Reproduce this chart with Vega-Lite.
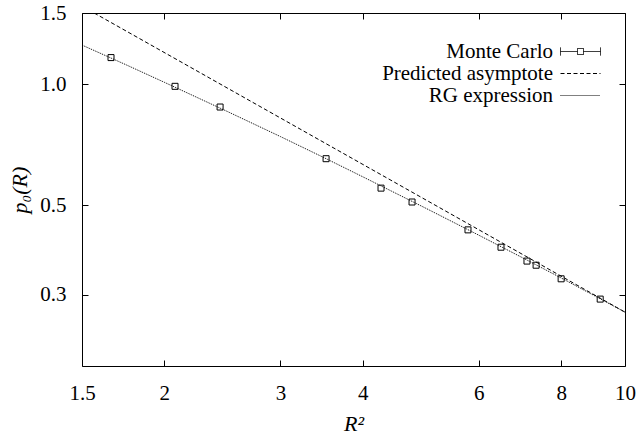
{
  "$schema": "https://vega.github.io/schema/vega-lite/v6.json",
  "width": 543,
  "height": 353,
  "autosize": {"type": "none"},
  "padding": {"left": 82, "top": 13, "right": 11, "bottom": 70},
  "background": "white",
  "config": {
    "view": {"stroke": "black", "strokeWidth": 1},
    "font": "'Liberation Serif', 'Times New Roman', Times, serif",
    "axis": {
      "grid": false,
      "domain": false,
      "tickColor": "black",
      "tickSize": -6,
      "tickWidth": 1,
      "labelFlush": false,
      "labelOverlap": false,
      "labelFont": "'Liberation Serif', 'Times New Roman', Times, serif",
      "labelFontSize": 21,
      "labelColor": "black",
      "titleFont": "'Liberation Serif', 'Times New Roman', Times, serif",
      "titleFontSize": 22,
      "titleFontWeight": "normal",
      "titleFontStyle": "italic",
      "titleColor": "black"
    }
  },
  "datasets": {
    "curves": [
      {"series": "Predicted asymptote", "r2": 1.565, "p0": 1.5},
      {"series": "Predicted asymptote", "r2": 10, "p0": 0.272},
      {"series": "RG expression", "r2": 1.5, "p0": 1.249},
      {"series": "RG expression", "r2": 1.75, "p0": 1.116},
      {"series": "RG expression", "r2": 2, "p0": 1.010},
      {"series": "RG expression", "r2": 2.5, "p0": 0.853},
      {"series": "RG expression", "r2": 3, "p0": 0.741},
      {"series": "RG expression", "r2": 3.5, "p0": 0.656},
      {"series": "RG expression", "r2": 4, "p0": 0.589},
      {"series": "RG expression", "r2": 5, "p0": 0.491},
      {"series": "RG expression", "r2": 6, "p0": 0.422},
      {"series": "RG expression", "r2": 7, "p0": 0.3706},
      {"series": "RG expression", "r2": 8, "p0": 0.3306},
      {"series": "RG expression", "r2": 9, "p0": 0.2984},
      {"series": "RG expression", "r2": 10, "p0": 0.272}
    ],
    "mc": [
      {"series": "Monte Carlo", "r2": 1.660, "p0": 1.163},
      {"series": "Monte Carlo", "r2": 2.076, "p0": 0.987},
      {"series": "Monte Carlo", "r2": 2.430, "p0": 0.877},
      {"series": "Monte Carlo", "r2": 3.519, "p0": 0.653},
      {"series": "Monte Carlo", "r2": 4.264, "p0": 0.552},
      {"series": "Monte Carlo", "r2": 4.752, "p0": 0.510},
      {"series": "Monte Carlo", "r2": 5.778, "p0": 0.435},
      {"series": "Monte Carlo", "r2": 6.484, "p0": 0.394},
      {"series": "Monte Carlo", "r2": 7.10, "p0": 0.364},
      {"series": "Monte Carlo", "r2": 7.33, "p0": 0.3555},
      {"series": "Monte Carlo", "r2": 8.00, "p0": 0.329},
      {"series": "Monte Carlo", "r2": 9.17, "p0": 0.293}
    ]
  },
  "layer": [
    {
      "data": {"name": "curves"},
      "mark": {"type": "line", "color": "black", "strokeWidth": 1, "clip": true},
      "encoding": {
        "x": {
          "field": "r2", "type": "quantitative",
          "scale": {"type": "log", "domain": [1.5, 10], "nice": false},
          "axis": {"orient": "bottom", "values": [1.5, 2, 3, 4, 6, 8, 10], "format": "~g", "labelPadding": 22, "title": "R²", "titlePadding": 10}
        },
        "y": {
          "field": "p0", "type": "quantitative",
          "scale": {"type": "log", "domain": [0.2, 1.5], "nice": false},
          "axis": {"orient": "left", "values": [0.3, 0.5, 1.0, 1.5], "format": ".1f", "labelPadding": 22, "title": "p₀(R)", "titlePadding": 8}
        },
        "strokeDash": {
          "field": "series", "type": "nominal",
          "scale": {"domain": ["Monte Carlo", "Predicted asymptote", "RG expression"], "range": [[1, 0], [4, 2.5], [1, 1]]},
          "legend": {
            "orient": "none",
            "legendX": 299,
            "legendY": 28,
            "title": null,
            "padding": 0,
            "labelFont": "'Liberation Serif', 'Times New Roman', Times, serif",
            "labelFontSize": 21,
            "labelColor": "black",
            "labelAlign": "right",
            "labelLimit": 0,
            "labelOffset": -38,
            "symbolOffset": 189,
            "symbolSize": 100,
            "symbolStrokeWidth": 1,
            "symbolStrokeColor": "black",
            "symbolFillColor": "transparent",
            "rowPadding": 0,
            "encode": {
              "symbols": {
                "update": {
                  "shape": {"signal": "datum.label === 'Monte Carlo' ? 'M-4,0H-0.6M0.6,0H4M-4,-0.8V0.8M4,-0.8V0.8M-0.6,-0.6H0.6V0.6H-0.6Z' : 'M-4,0H4'"}
                }
              }
            }
          }
        },
        "detail": {"field": "series"}
      }
    },
    {
      "data": {"name": "mc"},
      "mark": {"type": "point", "shape": "square", "filled": false, "color": "black", "size": 36, "strokeWidth": 1, "opacity": 1},
      "encoding": {
        "x": {"field": "r2", "type": "quantitative", "axis": {"orient": "top", "values": [1.5, 2, 3, 4, 6, 8, 10], "labels": false, "title": null}},
        "y": {"field": "p0", "type": "quantitative", "axis": {"orient": "right", "values": [0.3, 0.5, 1.0, 1.5], "labels": false, "title": null}}
      }
    }
  ],
  "resolve": {"axis": {"x": "independent", "y": "independent"}}
}
